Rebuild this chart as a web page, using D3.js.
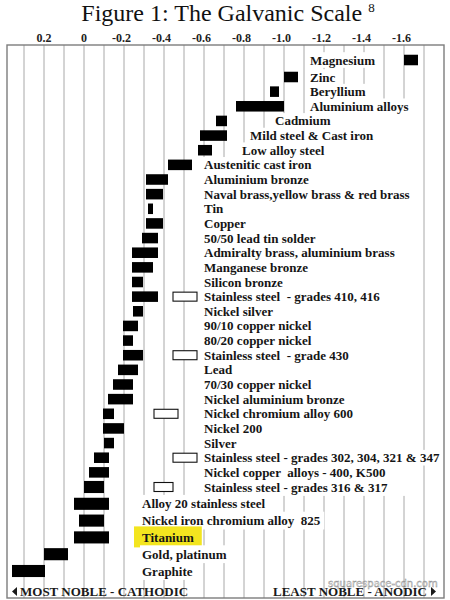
<!DOCTYPE html>
<html>
<head>
<meta charset="utf-8">
<script src="https://cdn.jsdelivr.net/npm/d3@7"></script>
<style>
  html, body { margin: 0; padding: 0; background: #fff; }
  svg { display: block; }
  .lbl { white-space: pre; }
</style>
</head>
<body>
<div id="chart"></div>
<script>
// ---- data (volts) ----
const materials = [
  "Magnesium", "Zinc", "Beryllium", "Aluminium alloys", "Cadmium",
  "Mild steel & Cast iron", "Low alloy steel", "Austenitic cast iron",
  "Aluminium bronze", "Naval brass,yellow brass & red brass", "Tin", "Copper",
  "50/50 lead tin solder", "Admiralty brass, aluminium brass", "Manganese bronze",
  "Silicon bronze", "Stainless steel  - grades 410, 416", "Nickel silver",
  "90/10 copper nickel", "80/20 copper nickel", "Stainless steel  - grade 430",
  "Lead", "70/30 copper nickel", "Nickel aluminium bronze",
  "Nickel chromium alloy 600", "Nickel 200", "Silver",
  "Stainless steel - grades 302, 304, 321 & 347",
  "Nickel copper  alloys - 400, K500", "Stainless steel - grades 316 & 317",
  "Alloy 20 stainless steel", "Nickel iron chromium alloy  825", "Titanium",
  "Gold, platinum", "Graphite"
];
// noble (cathodic) end of each range
const nobleEnd = [
  -1.60, -1.00, -0.93, -0.76, -0.66, -0.58, -0.57, -0.42, -0.31, -0.31, -0.32, -0.31,
  -0.29, -0.24, -0.24, -0.24, -0.24, -0.245, -0.195, -0.195, -0.195, -0.17, -0.145, -0.12,
  -0.095, -0.095, -0.10, -0.05, -0.025, 0.00, 0.05, 0.025, 0.05, 0.20, 0.36
];
// active (anodic) end of each range
const activeEnd = [
  -1.67, -1.07, -0.975, -1.00, -0.715, -0.715, -0.64, -0.54, -0.42, -0.395, -0.345, -0.395,
  -0.37, -0.37, -0.345, -0.295, -0.37, -0.295, -0.27, -0.245, -0.295, -0.27, -0.245, -0.245,
  -0.15, -0.20, -0.15, -0.125, -0.125, -0.10, -0.125, -0.10, -0.125, 0.08, 0.195
];
// active state of stainless / nickel-chromium alloys (hollow boxes), null = none
const activeStateFrom = [
  null, null, null, null, null, null, null, null, null, null, null, null,
  null, null, null, null, -0.445, null, null, null, -0.445, null, null, null,
  -0.35, null, null, -0.445, null, -0.35, null, null, null, null, null
];
const activeStateTo = [
  null, null, null, null, null, null, null, null, null, null, null, null,
  null, null, null, null, -0.565, null, null, null, -0.565, null, null, null,
  -0.47, null, null, -0.565, null, -0.445, null, null, null, null, null
];
const tickValues = [0.2, 0, -0.2, -0.4, -0.6, -0.8, -1.0, -1.2, -1.4, -1.6];
const tickLabels = ["0.2", "0", "-0.2", "-0.4", "-0.6", "-0.8", "-1.0", "-1.2", "-1.4", "-1.6"];
const gridValues = d3.range(0, 21).map(i => +(0.3 - i * 0.1).toFixed(1));
const highlighted = ["Titanium"];

// ---- layout ----
const W = 450, H = 600;
const frame = { left: 7, top: 45, right: 444, bottom: 598 };
// label column position per row, in volts on the same axis
const labelAtV = materials.map((m, i) =>
  i <= 3 ? -1.13 : i === 4 ? -0.955 : i === 5 ? -0.83 : i === 6 ? -0.79 : i <= 29 ? -0.60 : -0.29);
const panelRows = d3.range(3, 30);   // rows whose label box spans the whole text panel

const x = d3.scaleLinear().domain([0.3, -1.7]).range([24, 424]);
const y = d3.scaleLinear().domain([0, 1, 29, 34]).range([60, 77, 487, 571]);
const rowGap = i => i >= 29 ? 16.8 : 14.64;

const svg = d3.select("#chart").append("svg").attr("width", W).attr("height", H)
  .style("font-family", "'Liberation Serif','Times New Roman',serif");

svg.append("rect").attr("width", W).attr("height", H).attr("fill", "#fff");

// title
const title = svg.append("text").attr("x", 228).attr("y", 21).attr("text-anchor", "middle")
  .attr("font-size", 24).attr("fill", "#111");
title.append("tspan").text("Figure 1: The Galvanic Scale ");
title.append("tspan").attr("font-size", 13).attr("dy", -9).text("8");

// tick labels
svg.append("g").selectAll("text").data(tickValues).join("text")
  .attr("x", d => x(d) + (d < 0 ? -2.5 : 0)).attr("y", 41.5)
  .attr("text-anchor", "middle").attr("font-size", 12).attr("font-weight", "bold")
  .attr("fill", "#222").text((d, i) => tickLabels[i]);

// gridlines
svg.append("g").selectAll("line").data(gridValues).join("line")
  .attr("x1", d => x(d)).attr("x2", d => x(d))
  .attr("y1", frame.top).attr("y2", frame.bottom)
  .attr("stroke", "#a8a8a8").attr("stroke-width", 1);

// label layer (measure first, then put white boxes behind)
const rows = materials.map((m, i) => ({ name: m, i }));
const boxG = svg.append("g");
const barG = svg.append("g");
const labelG = svg.append("g");

const labels = labelG.selectAll("text").data(rows).join("text")
  .attr("class", "lbl")
  .attr("x", d => x(labelAtV[d.i])).attr("y", d => y(d.i) + 4.5)
  .attr("font-size", 13).attr("font-weight", "bold").attr("fill", "#151515")
  .text(d => d.name);

labels.each(function (d) {
  const len = this.getComputedTextLength();
  const x0 = x(labelAtV[d.i]);
  let x1 = x0 + len + 4;
  if (panelRows.includes(d.i)) x1 = Math.max(x1, 415);
  const g = rowGap(d.i);
  boxG.append("rect").attr("x", x0 - 2).attr("y", y(d.i) - g / 2 - 0.5)
    .attr("width", x1 - x0 + 2).attr("height", g + 1).attr("fill", "#fff");
  if (highlighted.includes(d.name)) {
    boxG.append("rect").attr("x", x0 - 8).attr("y", y(d.i) - 11)
      .attr("width", len + 16).attr("height", 21).attr("fill", "#f3e51f");
  }
});

// bars
barG.selectAll("rect.bar").data(rows).join("rect").attr("class", "bar")
  .attr("x", d => x(nobleEnd[d.i]))
  .attr("width", d => x(activeEnd[d.i]) - x(nobleEnd[d.i]))
  .attr("y", d => y(d.i) - rowGap(d.i) * 0.36)
  .attr("height", d => rowGap(d.i) * 0.72)
  .attr("fill", "#000");

// hollow boxes (active state)
barG.selectAll("rect.hollow").data(rows.filter(d => activeStateFrom[d.i] !== null)).join("rect")
  .attr("class", "hollow")
  .attr("x", d => x(activeStateFrom[d.i]))
  .attr("width", d => x(activeStateTo[d.i]) - x(activeStateFrom[d.i]))
  .attr("y", d => y(d.i) - 4.5).attr("height", 9)
  .attr("fill", "#fff").attr("stroke", "#111").attr("stroke-width", 1.1);

// frame
svg.append("rect").attr("x", frame.left).attr("y", frame.top)
  .attr("width", frame.right - frame.left).attr("height", frame.bottom - frame.top)
  .attr("fill", "none").attr("stroke", "#7d7d7d").attr("stroke-width", 1.4);

// bottom captions
const cap = svg.append("g").attr("font-size", 13).attr("font-weight", "bold").attr("fill", "#1a1a1a");
cap.append("path").attr("d", "M12,591.5 L17,587 L17,596 Z").attr("fill", "#1a1a1a");
cap.append("text").attr("x", 20).attr("y", 596).text("MOST NOBLE - CATHODIC");
cap.append("text").attr("x", 427).attr("y", 596).attr("text-anchor", "end").text("LEAST NOBLE - ANODIC");
cap.append("path").attr("d", "M436,591.5 L431,587 L431,596 Z").attr("fill", "#1a1a1a");

// watermark
svg.append("text").attr("x", 328).attr("y", 587)
  .attr("font-family", "'DejaVu Sans',sans-serif").attr("font-size", 10)
  .attr("fill", "#fff").attr("fill-opacity", 0.6).attr("stroke", "#8a8a8a").attr("stroke-width", 0.45)
  .text("squarespace-cdn.com");
</script>
</body>
</html>
